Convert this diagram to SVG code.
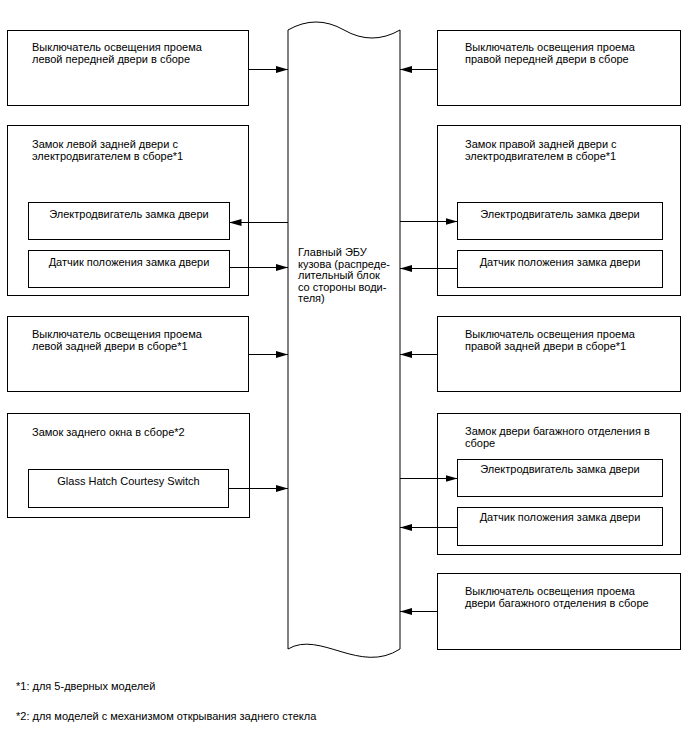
<svg xmlns="http://www.w3.org/2000/svg" width="688" height="755" viewBox="0 0 688 755">
<style>
rect.b{fill:#fff;stroke:#000;stroke-width:1}
text{font-family:"Liberation Sans",Arial,sans-serif;font-size:11px;fill:#000}
.c{text-anchor:middle}
.ln{stroke:#000;stroke-width:1;fill:none;marker-end:url(#ah)}
</style>
<defs>
<marker id="ah" viewBox="0 0 12 7" refX="12" refY="3.5" markerWidth="12" markerHeight="7" markerUnits="userSpaceOnUse" orient="auto">
<path d="M0,0 L12,3.5 L0,7 Z" fill="#000"/>
</marker>
</defs>
<rect width="688" height="755" fill="#fff"/>
<g id="ecu">
<path d="M288,30 Q316,14 344,30 T400,30 L400,649 C360,675 320,630 288,649 Z" fill="#fff" stroke="#000" stroke-width="1"/>
<text x="298" y="256">Главный ЭБУ</text>
<text x="298" y="267.5">кузова (распреде-</text>
<text x="298" y="279">лительный блок</text>
<text x="298" y="290.5">со стороны води-</text>
<text x="298" y="302">теля)</text>
</g>
<g id="nL1">
<rect class="b" x="7.5" y="30.5" width="241" height="75"/>
<text x="32" y="51">Выключатель освещения проема</text>
<text x="32" y="62.5">левой передней двери в сборе</text>
</g>
<g id="nL2">
<rect class="b" x="7.5" y="125.5" width="241" height="170"/>
<text x="32" y="148">Замок левой задней двери с</text>
<text x="32" y="159.5">электродвигателем в сборе*1</text>
<g id="nL2m">
<rect class="b" x="28.5" y="202.5" width="201" height="37"/>
<text class="c" x="129" y="218">Электродвигатель замка двери</text>
</g>
<g id="nL2s">
<rect class="b" x="28.5" y="250.5" width="201" height="37"/>
<text class="c" x="129" y="266">Датчик положения замка двери</text>
</g>
</g>
<g id="nL3">
<rect class="b" x="7.5" y="316.5" width="241" height="75"/>
<text x="32" y="338">Выключатель освещения проема</text>
<text x="32" y="349.5">левой задней двери в сборе*1</text>
</g>
<g id="nL4">
<rect class="b" x="7.5" y="413.5" width="242" height="104"/>
<text x="32" y="436">Замок заднего окна в сборе*2</text>
<g id="nL4g">
<rect class="b" x="28.5" y="469.5" width="200" height="38"/>
<text class="c" x="128.5" y="485">Glass Hatch Courtesy Switch</text>
</g>
</g>
<g id="nR1">
<rect class="b" x="437.5" y="30.5" width="243" height="75"/>
<text x="465" y="51">Выключатель освещения проема</text>
<text x="465" y="62.5">правой передней двери в сборе</text>
</g>
<g id="nR2">
<rect class="b" x="437.5" y="125.5" width="243" height="170"/>
<text x="465" y="148">Замок правой задней двери с</text>
<text x="465" y="159.5">электродвигателем в сборе*1</text>
<g id="nR2m">
<rect class="b" x="457.5" y="202.5" width="205" height="37"/>
<text class="c" x="560" y="218">Электродвигатель замка двери</text>
</g>
<g id="nR2s">
<rect class="b" x="457.5" y="250.5" width="205" height="37"/>
<text class="c" x="560" y="266">Датчик положения замка двери</text>
</g>
</g>
<g id="nR3">
<rect class="b" x="437.5" y="316.5" width="243" height="75"/>
<text x="465" y="338">Выключатель освещения проема</text>
<text x="465" y="349.5">правой задней двери в сборе*1</text>
</g>
<g id="nR4">
<rect class="b" x="437.5" y="413.5" width="243" height="141"/>
<text x="465" y="435">Замок двери багажного отделения в</text>
<text x="465" y="446.5">сборе</text>
<g id="nR4m">
<rect class="b" x="457.5" y="459.5" width="205" height="37"/>
<text class="c" x="560" y="473">Электродвигатель замка двери</text>
</g>
<g id="nR4s">
<rect class="b" x="457.5" y="507.5" width="205" height="38"/>
<text class="c" x="560" y="521">Датчик положения замка двери</text>
</g>
</g>
<g id="nR5">
<rect class="b" x="437.5" y="573.5" width="243" height="76"/>
<text x="465" y="595">Выключатель освещения проема</text>
<text x="465" y="606.5">двери багажного отделения в сборе</text>
</g>
<g id="connectors">
<path class="ln" d="M248.5,69.5 H288"/>
<path class="ln" d="M437.5,69.5 H400"/>
<path class="ln" d="M288,222.5 H229.5"/>
<path class="ln" d="M229.5,267.5 H288"/>
<path class="ln" d="M400,221.5 H457.5"/>
<path class="ln" d="M457.5,268.5 H400"/>
<path class="ln" d="M248.5,354.5 H288"/>
<path class="ln" d="M437.5,354.5 H400"/>
<path class="ln" d="M228.5,488.5 H288"/>
<path class="ln" d="M400,478.5 H457.5"/>
<path class="ln" d="M457.5,527.5 H400"/>
<path class="ln" d="M437.5,611.5 H400"/>
</g>
<g id="notes">
<text x="16" y="690">*1: для 5-дверных моделей</text>
<text x="16" y="720">*2: для моделей с механизмом открывания заднего стекла</text>
</g>
</svg>
